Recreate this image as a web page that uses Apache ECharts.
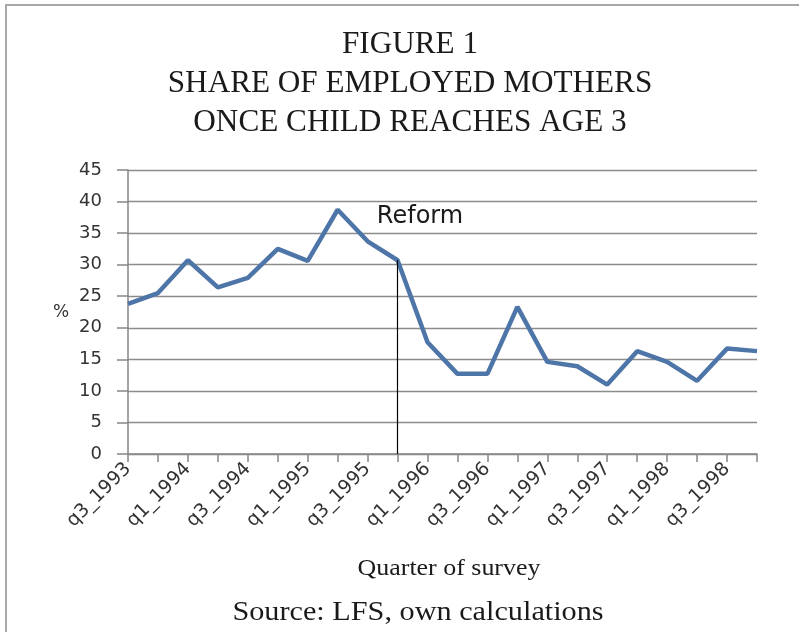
<!DOCTYPE html>
<html>
<head>
<meta charset="utf-8">
<script src="https://cdn.jsdelivr.net/npm/echarts@6/dist/echarts.min.js"></script>
<style>html,body{margin:0;padding:0;background:#fff;}#chart{width:799px;height:632px;}</style>
</head>
<body>
<div id="chart"></div>
<script>
var categories = ['q3_1993','q4_1993','q1_1994','q2_1994','q3_1994','q4_1994','q1_1995','q2_1995','q3_1995','q4_1995','q1_1996','q2_1996','q3_1996','q4_1996','q1_1997','q2_1997','q3_1997','q4_1997','q1_1998','q2_1998','q3_1998','q4_1998'];
var shareEmployed = [23.8, 25.5, 30.7, 26.4, 27.9, 32.5, 30.6, 38.7, 33.7, 30.7, 17.7, 12.7, 12.7, 23.3, 14.6, 13.9, 11.0, 16.3, 14.6, 11.6, 16.7, 16.3];
var reformQuarter = 'q4_1995';
var reformValue = 30.7;
var titleLines = ['FIGURE 1', 'SHARE OF EMPLOYED MOTHERS', 'ONCE CHILD REACHES AGE 3'];
var yTicks = {min: 0, max: 45, interval: 5};

var chart = echarts.init(document.getElementById('chart'), null, {renderer: 'canvas'});
var serif = '"Liberation Serif", "Times New Roman", serif';
var sans = '"DejaVu Sans", sans-serif';

var graphics = [
  {type: 'rect', shape: {x: 6, y: 5, width: 820, height: 660}, style: {fill: 'none', stroke: '#a8a8a8', lineWidth: 2}, silent: true, z: 0}
];
var titleY = [45, 84, 123];
titleLines.forEach(function (t, i) {
  graphics.push({type: 'text', x: 410, y: titleY[i], scaleX: 1.04, scaleY: 1.05, style: {text: t, font: '30px ' + serif, fill: '#1a1a1a', textAlign: 'center', textVerticalAlign: 'middle'}});
});
graphics.push({type: 'text', x: 420, y: 217, style: {text: 'Reform', font: '24px ' + sans, fill: '#1a1a1a', textAlign: 'center', textVerticalAlign: 'middle'}});
graphics.push({type: 'text', x: 61, y: 313, style: {text: '%', font: '17px ' + sans, fill: '#333', textAlign: 'center', textVerticalAlign: 'middle'}});
graphics.push({type: 'text', x: 449, y: 569, scaleX: 1.08, style: {text: 'Quarter of survey', font: '24px ' + serif, fill: '#1a1a1a', textAlign: 'center', textVerticalAlign: 'middle'}});
graphics.push({type: 'text', x: 418, y: 613, scaleX: 1.08, style: {text: 'Source: LFS, own calculations', font: '28px ' + serif, fill: '#1a1a1a', textAlign: 'center', textVerticalAlign: 'middle'}});

var option = {
  animation: false,
  backgroundColor: '#fff',
  grid: {left: 128, right: 42, top: 170, bottom: 178, containLabel: false},
  xAxis: {
    type: 'category',
    data: categories,
    boundaryGap: false,
    axisLine: {lineStyle: {color: '#868686', width: 1.5}},
    axisTick: {show: true, interval: 0, length: 8, lineStyle: {color: '#868686', width: 1.5}},
    axisLabel: {interval: 1, rotate: 45, fontFamily: 'DejaVu Sans', fontSize: 19, color: '#333', margin: 12},
    splitLine: {show: false}
  },
  yAxis: {
    type: 'value',
    min: yTicks.min, max: yTicks.max, interval: yTicks.interval,
    axisLine: {show: true, lineStyle: {color: '#868686', width: 1.5}},
    axisTick: {show: true, length: 11, lineStyle: {color: '#868686', width: 1.5}},
    axisLabel: {fontFamily: 'DejaVu Sans', fontSize: 18, color: '#333', margin: 26},
    splitLine: {show: true, lineStyle: {color: '#8c8c8c', width: 1.3}}
  },
  series: [{
    type: 'line',
    data: shareEmployed,
    showSymbol: false,
    symbol: 'none',
    lineStyle: {color: '#4d75a8', width: 4.5},
    itemStyle: {color: '#4d75a8'},
    z: 3,
    markLine: {
      silent: true,
      symbol: ['none', 'none'],
      label: {show: false},
      lineStyle: {color: '#000', width: 1.2, type: 'solid'},
      data: [[{coord: [reformQuarter, 0]}, {coord: [reformQuarter, reformValue]}]]
    }
  }],
  graphic: graphics
};
chart.setOption(option);
</script>
</body>
</html>
